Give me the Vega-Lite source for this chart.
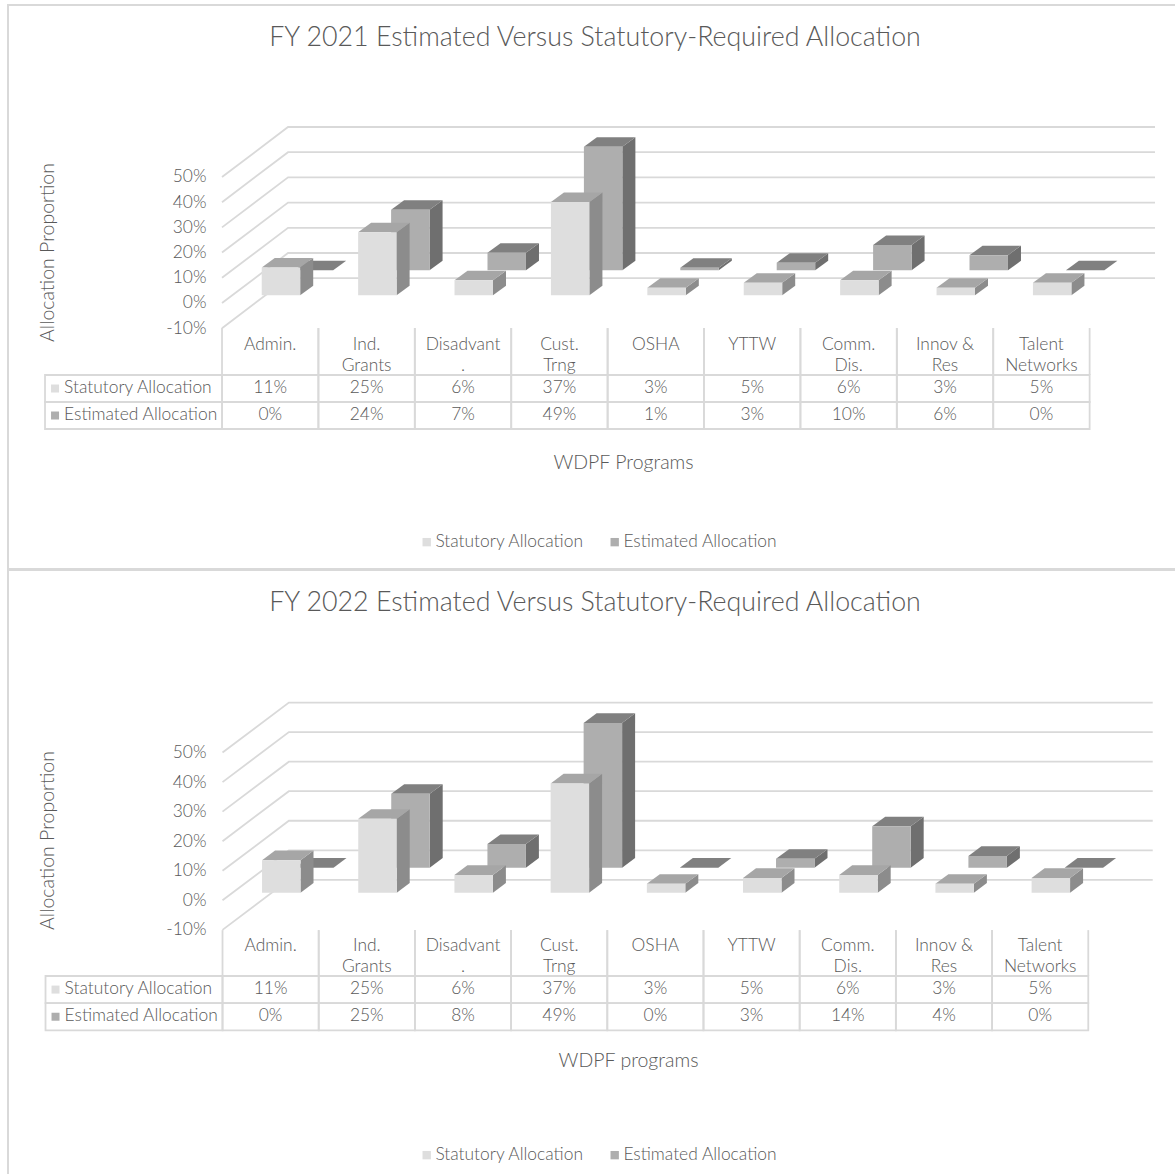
{"$schema":"https://vega.github.io/schema/vega-lite/v6.json","padding":{"left":7,"top":4,"right":0,"bottom":0},"background":"white","spacing":-2,
"resolve":{"scale":{"color":"independent"},"legend":{"color":"independent"}},
"config":{"view":{"stroke":"#d9d9d9","strokeWidth":2},"font":"Lato","text":{"font":"Lato","fontWeight":300,"fontSize":17.4,"color":"#595959"}},
"datasets":{
"ticks":[{"tick":-10},{"tick":0},{"tick":10},{"tick":20},{"tick":30},{"tick":40},{"tick":50}],
"fy2021":[
{"program":"Admin.","series":"Statutory Allocation","value":11},{"program":"Ind.\nGrants","series":"Statutory Allocation","value":25},{"program":"Disadvant\n.","series":"Statutory Allocation","value":6},{"program":"Cust.\nTrng","series":"Statutory Allocation","value":37},{"program":"OSHA","series":"Statutory Allocation","value":3},{"program":"YTTW","series":"Statutory Allocation","value":5},{"program":"Comm.\nDis.","series":"Statutory Allocation","value":6},{"program":"Innov &\nRes","series":"Statutory Allocation","value":3},{"program":"Talent\nNetworks","series":"Statutory Allocation","value":5},
{"program":"Admin.","series":"Estimated Allocation","value":0},{"program":"Ind.\nGrants","series":"Estimated Allocation","value":24},{"program":"Disadvant\n.","series":"Estimated Allocation","value":7},{"program":"Cust.\nTrng","series":"Estimated Allocation","value":49},{"program":"OSHA","series":"Estimated Allocation","value":1},{"program":"YTTW","series":"Estimated Allocation","value":3},{"program":"Comm.\nDis.","series":"Estimated Allocation","value":10},{"program":"Innov &\nRes","series":"Estimated Allocation","value":6},{"program":"Talent\nNetworks","series":"Estimated Allocation","value":0}],
"fy2022":[
{"program":"Admin.","series":"Statutory Allocation","value":11},{"program":"Ind.\nGrants","series":"Statutory Allocation","value":25},{"program":"Disadvant\n.","series":"Statutory Allocation","value":6},{"program":"Cust.\nTrng","series":"Statutory Allocation","value":37},{"program":"OSHA","series":"Statutory Allocation","value":3},{"program":"YTTW","series":"Statutory Allocation","value":5},{"program":"Comm.\nDis.","series":"Statutory Allocation","value":6},{"program":"Innov &\nRes","series":"Statutory Allocation","value":3},{"program":"Talent\nNetworks","series":"Statutory Allocation","value":5},
{"program":"Admin.","series":"Estimated Allocation","value":0},{"program":"Ind.\nGrants","series":"Estimated Allocation","value":25},{"program":"Disadvant\n.","series":"Estimated Allocation","value":8},{"program":"Cust.\nTrng","series":"Estimated Allocation","value":49},{"program":"OSHA","series":"Estimated Allocation","value":0},{"program":"YTTW","series":"Estimated Allocation","value":3},{"program":"Comm.\nDis.","series":"Estimated Allocation","value":14},{"program":"Innov &\nRes","series":"Estimated Allocation","value":4},{"program":"Talent\nNetworks","series":"Estimated Allocation","value":0}]
},
"vconcat":[
{"width":1168,"height":564,
"title":{"text":"FY 2021 Estimated Versus Statutory-Required Allocation","anchor":"middle","dx":3,"offset":-47,"font":"Lato","fontWeight":300,"fontSize":26.8,"color":"#595959"},
"resolve":{"scale":{"y":"independent"}},
"layer":[
{"data":{"name":"fy2021"},
"transform":[{"window":[{"op":"row_number","as":"n"}],"groupby":["series"]},{"calculate":"datum.n-1","as":"col"},{"calculate":"datum.series=='Estimated Allocation'?1:0","as":"s"},{"calculate":"datum.col+0.412+datum.s*0.342","as":"x0"},{"calculate":"datum.x0+0.399","as":"x1"},{"calculate":"3.05+datum.s*9.92","as":"base"},{"calculate":"datum.base+datum.value","as":"top"}],
"layer":[
{"data":{"name":"ticks"},
"transform":[{"calculate":"[0,0.685,9.678]","as":"fx"},{"calculate":"[datum.tick,datum.tick+19.84,datum.tick+19.84]","as":"fy"},{"flatten":["fx","fy"]}],
"mark":{"type":"line","color":"#d9d9d9","strokeWidth":1.8},
"encoding":{"x":{"field":"fx","type":"quantitative","scale":{"domain":[-2.22,9.896],"nice":false,"zero":false},"axis":{"title":"WDPF Programs","titleFont":"Lato","titleFontWeight":300,"titleFontSize":19.5,"titleColor":"#595959","labels":false,"ticks":false,"domain":false,"grid":false,"titleX":615,"titleY":-116}},
"y":{"field":"fy","type":"quantitative","scale":{"domain":[-105.56,118.25],"nice":false,"zero":false},"axis":{"values":[-10,0,10,20,30,40,50],"labelExpr":"datum.value+'%'","title":"Allocation Proportion","titleFont":"Lato","titleFontWeight":300,"titleFontSize":19.5,"titleColor":"#595959","labelFont":"Lato","labelFontWeight":300,"labelFontSize":17.4,"labelColor":"#595959","ticks":false,"domain":false,"grid":false,"offset":-198,"labelPadding":0,"titleX":-149,"titleY":247}},
"detail":{"field":"tick","type":"nominal"}}},
{"transform":[{"filter":"datum.s==1"},{"calculate":"[datum.x1,datum.x1+0.135]","as":"fx"},{"calculate":"[datum.base,datum.base+3.77]","as":"fa"},{"calculate":"[datum.top,datum.top+3.77]","as":"fb"},{"flatten":["fx","fa","fb"]}],
"mark":{"type":"area","color":"#6f6f6f","orient":"vertical"},
"encoding":{"x":{"field":"fx","type":"quantitative"},"y":{"field":"fa","type":"quantitative","stack":null},"y2":{"field":"fb"},"detail":{"field":"program","type":"nominal"}}},
{"transform":[{"filter":"datum.s==1"},{"calculate":"[datum.x0,datum.x0+0.135,datum.x1,datum.x1+0.135]","as":"fx"},{"calculate":"[datum.top,datum.top,datum.top,datum.top+3.77]","as":"fa"},{"calculate":"[datum.top,datum.top+3.77,datum.top+3.77,datum.top+3.77]","as":"fb"},{"flatten":["fx","fa","fb"]}],
"mark":{"type":"area","color":"#808080","orient":"vertical"},
"encoding":{"x":{"field":"fx","type":"quantitative"},"y":{"field":"fa","type":"quantitative","stack":null},"y2":{"field":"fb"},"detail":{"field":"program","type":"nominal"}}},
{"transform":[{"filter":"datum.s==1"}],"mark":{"type":"rect"},
"encoding":{"x":{"field":"x0","type":"quantitative"},"x2":{"field":"x1"},"y":{"field":"base","type":"quantitative"},"y2":{"field":"top"},"color":{"field":"series","type":"nominal","scale":{"domain":["Statutory Allocation","Estimated Allocation"],"range":["#dedede","#aeaeae"]},"legend":{"orient":"none","legendX":410,"legendY":528,"direction":"horizontal","columns":2,"title":null,"symbolType":"square","symbolSize":70,"symbolStrokeWidth":0,"labelFont":"Lato","labelFontWeight":300,"labelFontSize":17.4,"labelColor":"#595959","labelOffset":0,"columnPadding":22}}}},
{"transform":[{"filter":"datum.s==0"},{"calculate":"[datum.x1,datum.x1+0.135]","as":"fx"},{"calculate":"[datum.base,datum.base+3.77]","as":"fa"},{"calculate":"[datum.top,datum.top+3.77]","as":"fb"},{"flatten":["fx","fa","fb"]}],
"mark":{"type":"area","color":"#8c8c8c","orient":"vertical"},
"encoding":{"x":{"field":"fx","type":"quantitative"},"y":{"field":"fa","type":"quantitative","stack":null},"y2":{"field":"fb"},"detail":{"field":"program","type":"nominal"}}},
{"transform":[{"filter":"datum.s==0"},{"calculate":"[datum.x0,datum.x0+0.135,datum.x1,datum.x1+0.135]","as":"fx"},{"calculate":"[datum.top,datum.top,datum.top,datum.top+3.77]","as":"fa"},{"calculate":"[datum.top,datum.top+3.77,datum.top+3.77,datum.top+3.77]","as":"fb"},{"flatten":["fx","fa","fb"]}],
"mark":{"type":"area","color":"#a6a6a6","orient":"vertical"},
"encoding":{"x":{"field":"fx","type":"quantitative"},"y":{"field":"fa","type":"quantitative","stack":null},"y2":{"field":"fb"},"detail":{"field":"program","type":"nominal"}}},
{"transform":[{"filter":"datum.s==0"}],"mark":{"type":"rect"},
"encoding":{"x":{"field":"x0","type":"quantitative"},"x2":{"field":"x1"},"y":{"field":"base","type":"quantitative"},"y2":{"field":"top"},"color":{"field":"series","type":"nominal"}}}
]},
{"data":{"name":"fy2021"},
"transform":[{"window":[{"op":"row_number","as":"n"}],"groupby":["series"]},{"calculate":"datum.n-1","as":"col"},{"calculate":"datum.series=='Estimated Allocation'?1:0","as":"s"},{"calculate":"datum.s+1","as":"s1"},{"calculate":"datum.s+0.5","as":"sm"},{"calculate":"datum.col+1","as":"col1"},{"calculate":"datum.col+0.5","as":"colm"},{"calculate":"datum.value+'%'","as":"pct"}],
"layer":[
{"mark":{"type":"rect","fill":null,"stroke":"#d9d9d9","strokeWidth":1.8},
"encoding":{"x":{"field":"col","type":"quantitative"},"x2":{"field":"col1"},"y":{"field":"s","type":"quantitative","axis":null,"scale":{"domain":[7.185,-13.7037],"nice":false,"zero":false}},"y2":{"field":"s1"}}},
{"transform":[{"filter":"datum.col==0"}],"mark":{"type":"rect","fill":null,"stroke":"#d9d9d9","strokeWidth":1.8},
"encoding":{"x":{"datum":-1.836,"type":"quantitative"},"x2":{"datum":0},"y":{"field":"s","type":"quantitative","axis":null},"y2":{"field":"s1"}}},
{"transform":[{"filter":"datum.s==0"},{"calculate":"[datum.col,datum.col1]","as":"edge"},{"flatten":["edge"]}],"mark":{"type":"rule","color":"#d9d9d9","strokeWidth":1.8},
"encoding":{"x":{"field":"edge","type":"quantitative"},"y":{"datum":-1.74,"type":"quantitative","axis":null},"y2":{"datum":0}}},
{"transform":[{"filter":"datum.s==0"}],"mark":{"type":"text","align":"center","baseline":"top","lineBreak":"\n","lineHeight":21},
"encoding":{"x":{"field":"colm","type":"quantitative"},"y":{"datum":-1.43,"type":"quantitative","axis":null},"text":{"field":"program"}}},
{"mark":{"type":"text","align":"center","baseline":"middle","dy":-1},
"encoding":{"x":{"field":"colm","type":"quantitative"},"y":{"field":"sm","type":"quantitative","axis":null},"text":{"field":"pct"}}},
{"transform":[{"filter":"datum.col==0"}],"mark":{"type":"text","align":"left","baseline":"middle","dy":-1},
"encoding":{"x":{"datum":-1.638,"type":"quantitative"},"y":{"field":"sm","type":"quantitative","axis":null},"text":{"field":"series"}}},
{"transform":[{"filter":"datum.col==0"}],"mark":{"type":"square","size":64,"opacity":1},
"encoding":{"x":{"datum":-1.732,"type":"quantitative"},"y":{"field":"sm","type":"quantitative","axis":null},"color":{"field":"series","type":"nominal"}}}
]}
]},
{"width":1168,"height":606,
"title":{"text":"FY 2022 Estimated Versus Statutory-Required Allocation","anchor":"middle","dx":3,"offset":-47,"font":"Lato","fontWeight":300,"fontSize":26.8,"color":"#595959"},
"resolve":{"scale":{"y":"independent"}},
"layer":[
{"data":{"name":"fy2022"},
"transform":[{"window":[{"op":"row_number","as":"n"}],"groupby":["series"]},{"calculate":"datum.n-1","as":"col"},{"calculate":"datum.series=='Estimated Allocation'?1:0","as":"s"},{"calculate":"datum.col+0.411+datum.s*0.343","as":"x0"},{"calculate":"datum.x0+0.4","as":"x1"},{"calculate":"2.57+datum.s*8.46","as":"base"},{"calculate":"datum.base+datum.value","as":"top"}],
"layer":[
{"data":{"name":"ticks"},
"transform":[{"calculate":"[0,0.69,9.67]","as":"fx"},{"calculate":"[datum.tick,datum.tick+16.92,datum.tick+16.92]","as":"fy"},{"flatten":["fx","fy"]}],
"mark":{"type":"line","color":"#d9d9d9","strokeWidth":1.8},
"encoding":{"x":{"field":"fx","type":"quantitative","scale":{"domain":[-2.23,9.912],"nice":false,"zero":false},"axis":{"title":"WDPF programs","titleFont":"Lato","titleFontWeight":300,"titleFontSize":19.5,"titleColor":"#595959","labels":false,"ticks":false,"domain":false,"grid":false,"titleX":620,"titleY":-125}},
"y":{"field":"fy","type":"quantitative","scale":{"domain":[-93.3,111.78],"nice":false,"zero":false},"axis":{"values":[-10,0,10,20,30,40,50],"labelExpr":"datum.value+'%'","title":"Allocation Proportion","titleFont":"Lato","titleFontWeight":300,"titleFontSize":19.5,"titleColor":"#595959","labelFont":"Lato","labelFontWeight":300,"labelFontSize":17.4,"labelColor":"#595959","ticks":false,"domain":false,"grid":false,"offset":-198,"labelPadding":0,"titleX":-149,"titleY":270}},
"detail":{"field":"tick","type":"nominal"}}},
{"transform":[{"filter":"datum.s==1"},{"calculate":"[datum.x1,datum.x1+0.135]","as":"fx"},{"calculate":"[datum.base,datum.base+3.28]","as":"fa"},{"calculate":"[datum.top,datum.top+3.28]","as":"fb"},{"flatten":["fx","fa","fb"]}],
"mark":{"type":"area","color":"#6f6f6f","orient":"vertical"},
"encoding":{"x":{"field":"fx","type":"quantitative"},"y":{"field":"fa","type":"quantitative","stack":null},"y2":{"field":"fb"},"detail":{"field":"program","type":"nominal"}}},
{"transform":[{"filter":"datum.s==1"},{"calculate":"[datum.x0,datum.x0+0.135,datum.x1,datum.x1+0.135]","as":"fx"},{"calculate":"[datum.top,datum.top,datum.top,datum.top+3.28]","as":"fa"},{"calculate":"[datum.top,datum.top+3.28,datum.top+3.28,datum.top+3.28]","as":"fb"},{"flatten":["fx","fa","fb"]}],
"mark":{"type":"area","color":"#808080","orient":"vertical"},
"encoding":{"x":{"field":"fx","type":"quantitative"},"y":{"field":"fa","type":"quantitative","stack":null},"y2":{"field":"fb"},"detail":{"field":"program","type":"nominal"}}},
{"transform":[{"filter":"datum.s==1"}],"mark":{"type":"rect"},
"encoding":{"x":{"field":"x0","type":"quantitative"},"x2":{"field":"x1"},"y":{"field":"base","type":"quantitative"},"y2":{"field":"top"},"color":{"field":"series","type":"nominal","scale":{"domain":["Statutory Allocation","Estimated Allocation"],"range":["#dedede","#aeaeae"]},"legend":{"orient":"none","legendX":410,"legendY":576,"direction":"horizontal","columns":2,"title":null,"symbolType":"square","symbolSize":70,"symbolStrokeWidth":0,"labelFont":"Lato","labelFontWeight":300,"labelFontSize":17.4,"labelColor":"#595959","labelOffset":0,"columnPadding":22}}}},
{"transform":[{"filter":"datum.s==0"},{"calculate":"[datum.x1,datum.x1+0.135]","as":"fx"},{"calculate":"[datum.base,datum.base+3.28]","as":"fa"},{"calculate":"[datum.top,datum.top+3.28]","as":"fb"},{"flatten":["fx","fa","fb"]}],
"mark":{"type":"area","color":"#8c8c8c","orient":"vertical"},
"encoding":{"x":{"field":"fx","type":"quantitative"},"y":{"field":"fa","type":"quantitative","stack":null},"y2":{"field":"fb"},"detail":{"field":"program","type":"nominal"}}},
{"transform":[{"filter":"datum.s==0"},{"calculate":"[datum.x0,datum.x0+0.135,datum.x1,datum.x1+0.135]","as":"fx"},{"calculate":"[datum.top,datum.top,datum.top,datum.top+3.28]","as":"fa"},{"calculate":"[datum.top,datum.top+3.28,datum.top+3.28,datum.top+3.28]","as":"fb"},{"flatten":["fx","fa","fb"]}],
"mark":{"type":"area","color":"#a6a6a6","orient":"vertical"},
"encoding":{"x":{"field":"fx","type":"quantitative"},"y":{"field":"fa","type":"quantitative","stack":null},"y2":{"field":"fb"},"detail":{"field":"program","type":"nominal"}}},
{"transform":[{"filter":"datum.s==0"}],"mark":{"type":"rect"},
"encoding":{"x":{"field":"x0","type":"quantitative"},"x2":{"field":"x1"},"y":{"field":"base","type":"quantitative"},"y2":{"field":"top"},"color":{"field":"series","type":"nominal"}}}
]},
{"data":{"name":"fy2022"},
"transform":[{"window":[{"op":"row_number","as":"n"}],"groupby":["series"]},{"calculate":"datum.n-1","as":"col"},{"calculate":"datum.series=='Estimated Allocation'?1:0","as":"s"},{"calculate":"datum.s+1","as":"s1"},{"calculate":"datum.s+0.5","as":"sm"},{"calculate":"datum.col+1","as":"col1"},{"calculate":"datum.col+0.5","as":"colm"},{"calculate":"datum.value+'%'","as":"pct"}],
"layer":[
{"mark":{"type":"rect","fill":null,"stroke":"#d9d9d9","strokeWidth":1.8},
"encoding":{"x":{"field":"col","type":"quantitative"},"x2":{"field":"col1"},"y":{"field":"s","type":"quantitative","axis":null,"scale":{"domain":[7.366,-14.954],"nice":false,"zero":false}},"y2":{"field":"s1"}}},
{"transform":[{"filter":"datum.col==0"}],"mark":{"type":"rect","fill":null,"stroke":"#d9d9d9","strokeWidth":1.8},
"encoding":{"x":{"datum":-1.84,"type":"quantitative"},"x2":{"datum":0},"y":{"field":"s","type":"quantitative","axis":null},"y2":{"field":"s1"}}},
{"transform":[{"filter":"datum.s==0"},{"calculate":"[datum.col,datum.col1]","as":"edge"},{"flatten":["edge"]}],"mark":{"type":"rule","color":"#d9d9d9","strokeWidth":1.8},
"encoding":{"x":{"field":"edge","type":"quantitative"},"y":{"datum":-1.69,"type":"quantitative","axis":null},"y2":{"datum":0}}},
{"transform":[{"filter":"datum.s==0"}],"mark":{"type":"text","align":"center","baseline":"top","lineBreak":"\n","lineHeight":21},
"encoding":{"x":{"field":"colm","type":"quantitative"},"y":{"datum":-1.43,"type":"quantitative","axis":null},"text":{"field":"program"}}},
{"mark":{"type":"text","align":"center","baseline":"middle","dy":-1},
"encoding":{"x":{"field":"colm","type":"quantitative"},"y":{"field":"sm","type":"quantitative","axis":null},"text":{"field":"pct"}}},
{"transform":[{"filter":"datum.col==0"}],"mark":{"type":"text","align":"left","baseline":"middle","dy":-1},
"encoding":{"x":{"datum":-1.642,"type":"quantitative"},"y":{"field":"sm","type":"quantitative","axis":null},"text":{"field":"series"}}},
{"transform":[{"filter":"datum.col==0"}],"mark":{"type":"square","size":64,"opacity":1},
"encoding":{"x":{"datum":-1.736,"type":"quantitative"},"y":{"field":"sm","type":"quantitative","axis":null},"color":{"field":"series","type":"nominal"}}}
]}
]}
]}
